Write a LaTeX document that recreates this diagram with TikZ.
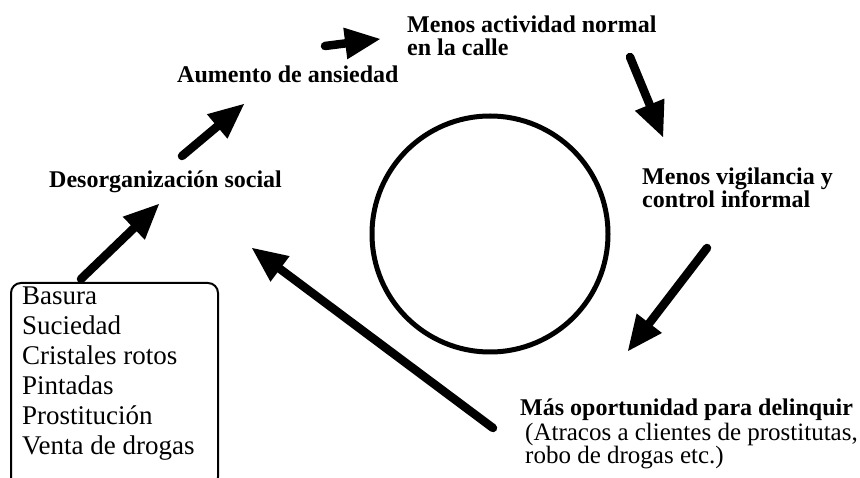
\documentclass[tikz,border=0pt]{standalone}
\usepackage{fontspec}
\setmainfont{Liberation Serif}
\usetikzlibrary{arrows.meta}
\begin{document}
\begin{tikzpicture}[x=1pt,y=-1pt,
  boldlbl/.style={inner sep=0pt, font=\bfseries\fontsize{24}{23}\selectfont, align=left},
  plainlbl/.style={inner sep=0pt, font=\fontsize{25}{23}\selectfont, align=left},
  listlbl/.style={inner sep=0pt, font=\fontsize{27}{30}\selectfont, align=left},
  listbox/.style={draw, line width=2pt, rounded corners=10pt, minimum width=207pt, minimum height=204pt, inner sep=0pt},
  loop/.style={draw, circle, line width=5pt, minimum size=236pt, inner sep=0pt},
  flow/.style={line width=8.5pt, line cap=round, -{Triangle[length=35pt,width=32pt,line width=0pt]}}
]
\useasboundingbox (0,0) rectangle (860,478);

% central circle
\node[loop] (ring) at (490,234) {};

% box with list
\node[listbox, anchor=north west] (lista) at (10,282) {};
\node[listlbl, anchor=north west] (items) at (22,287)
  {Basura\\Suciedad\\Cristales rotos\\Pintadas\\Prostitución\\Venta de drogas};

% labels
\node[boldlbl, anchor=base west] (des) at (49,188) {Desorganización social};
\node[boldlbl, anchor=base west] (ans) at (177,83) {Aumento de ansiedad};
\node[boldlbl, anchor=north west] (act) at (407,16) {Menos actividad normal\\en la calle};
\node[boldlbl, anchor=north west] (vig) at (642,168) {Menos vigilancia y\\control informal};
\node[boldlbl, anchor=base west] (opo) at (520,415) {Más oportunidad para delinquir};
\node[plainlbl, anchor=north west] (atr) at (525,423) {(Atracos a clientes de prostitutas,\\robo de drogas etc.)};

% arrow end points
\coordinate (a1s) at (81,279);  \coordinate (a1e) at (159,204);
\coordinate (a2s) at (182,156); \coordinate (a2e) at (244,104);
\coordinate (a3s) at (325,46);  \coordinate (a3e) at (380,39);
\coordinate (a4s) at (630,57);  \coordinate (a4e) at (663,137);
\coordinate (a5s) at (707,248); \coordinate (a5e) at (628,351);
\coordinate (a6s) at (493,428); \coordinate (a6e) at (252,248);

\draw[flow] (a1s) -- (a1e);
\draw[flow] (a2s) -- (a2e);
\draw[flow] (a3s) -- (a3e);
\draw[flow] (a4s) -- (a4e);
\draw[flow] (a5s) -- (a5e);
\draw[flow] (a6s) -- (a6e);
\end{tikzpicture}
\end{document}
